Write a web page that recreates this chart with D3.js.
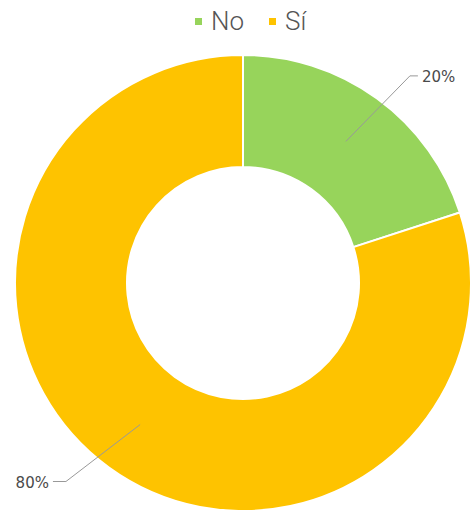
<!DOCTYPE html>
<html><head><meta charset="utf-8">
<script src="https://cdn.jsdelivr.net/npm/d3@7"></script>
<style>body{margin:0;background:#fff}</style>
</head><body>
<svg id="c" width="473" height="510"></svg>
<script>
const categories = ["No", "Sí"];
const values = [20, 80];
const labels = ["20%", "80%"];
const colors = ["#97d45b", "#fec300"];

const svg = d3.select("#c");
const cx = 243, cy = 283, outerR = 228, innerR = 116;
const g = svg.append("g").attr("transform", `translate(${cx},${cy})`);
const pie = d3.pie().sort(null).value(d => d.v);
const data = pie(categories.map((c, i) => ({c, v: values[i], l: labels[i]})));
const arc = d3.arc().innerRadius(innerR).outerRadius(outerR);
const color = d3.scaleOrdinal().domain(categories).range(colors);

g.selectAll("path.s").data(data).enter().append("path")
  .attr("class", "s")
  .attr("d", arc)
  .attr("fill", d => color(d.data.c))
  .attr("stroke", "#fff").attr("stroke-width", 2);

// leader lines
const inArc = d3.arc().innerRadius(175).outerRadius(175);
const outArc = d3.arc().innerRadius(266).outerRadius(266);
data.forEach(d => {
  const mid = (d.startAngle + d.endAngle) / 2;
  const right = mid < Math.PI;
  const a = mid + (right ? 0.05 : 0.1);
  const p0 = inArc.centroid(d);
  const p1 = outArc.centroid({startAngle: a, endAngle: a});
  const p2 = [p1[0] + (right ? 8 : -13), p1[1]];
  g.append("polyline")
    .attr("points", [p0, p1, p2].map(p => p.join(",")).join(" "))
    .attr("fill", "none").attr("stroke", "#999").attr("stroke-width", 1);
  g.append("text")
    .attr("x", p2[0] + (right ? 4 : -4)).attr("y", p2[1] + 1)
    .attr("dy", "0.35em")
    .attr("text-anchor", right ? "start" : "end")
    .attr("font-family", "'DejaVu Sans', sans-serif")
    .attr("font-size", 15).attr("fill", "#4a4a4a")
    .text(d.data.l);
});

// legend
const legend = svg.append("g");
const legendX = [195, 269];
categories.forEach((c, i) => {
  legend.append("rect").attr("x", legendX[i]).attr("y", 18).attr("width", 7).attr("height", 7)
    .attr("fill", color(c));
  legend.append("text").attr("x", legendX[i] + 16).attr("y", 30)
    .attr("font-family", "Roboto, 'Liberation Sans', sans-serif")
    .attr("font-weight", 300)
    .attr("font-size", 26).attr("fill", "#555").text(c);
});
</script>
</body></html>
